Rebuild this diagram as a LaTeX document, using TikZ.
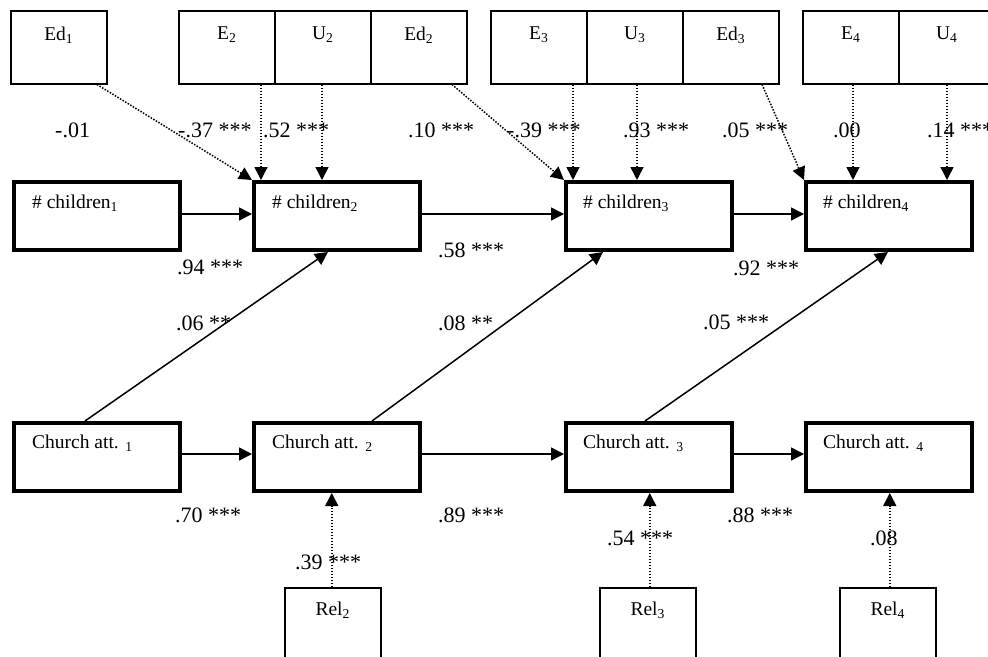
\documentclass[tikz,border=0pt]{standalone}
\usepackage{fontspec}
\setmainfont{Liberation Serif}
\usetikzlibrary{arrows.meta,calc}
\begin{document}
\begin{tikzpicture}[x=1pt,y=-1pt,
  thinbox/.style={draw,line width=1.5pt,inner sep=0pt,anchor=north west,minimum width=96pt,minimum height=73pt},
  thickbox/.style={draw,line width=4pt,inner sep=0pt,anchor=north west,minimum width=166pt,minimum height=68pt},
  boxlbl/.style={inner sep=0pt,font=\fontsize{19.5pt}{23pt}\selectfont},
  coef/.style={inner sep=0pt,anchor=west,font=\fontsize{22pt}{26pt}\selectfont},
  arr/.style={-{Triangle[length=13pt,width=13pt]},line width=1.5pt},
  dotarr/.style={arr,dash pattern=on 1.5pt off 1.5pt}
]
\useasboundingbox (0,0) rectangle (988,656);
\clip (0,0) rectangle (988,656);
\fill[white] (0,0) rectangle (988,656);

% top exogenous boxes
\node[thinbox] (ed1) at (10,10) {};
\node[thinbox] (e2) at (178,10) {};
\node[thinbox] (u2) at (274,10) {};
\node[thinbox] (ed2) at (370,10) {};
\node[thinbox] (e3) at (490,10) {};
\node[thinbox] (u3) at (586,10) {};
\node[thinbox] (ed3) at (682,10) {};
\node[thinbox] (e4) at (802,10) {};
\node[thinbox] (u4) at (898,10) {};
\node[boxlbl] (ted1) at ($(ed1.north)+(0,25)$) {Ed\textsubscript{1}};
\node[boxlbl] (te2) at ($(e2.north)+(0,25)$) {E\textsubscript{2}};
\node[boxlbl] (tu2) at ($(u2.north)+(0,25)$) {U\textsubscript{2}};
\node[boxlbl] (ted2) at ($(ed2.north)+(0,25)$) {Ed\textsubscript{2}};
\node[boxlbl] (te3) at ($(e3.north)+(0,25)$) {E\textsubscript{3}};
\node[boxlbl] (tu3) at ($(u3.north)+(0,25)$) {U\textsubscript{3}};
\node[boxlbl] (ted3) at ($(ed3.north)+(0,25)$) {Ed\textsubscript{3}};
\node[boxlbl] (te4) at ($(e4.north)+(0,25)$) {E\textsubscript{4}};
\node[boxlbl] (tu4) at ($(u4.north)+(0,25)$) {U\textsubscript{4}};

% children boxes
\node[thickbox] (ch1) at (12,180) {};
\node[thickbox] (ch2) at (252,180) {};
\node[thickbox] (ch3) at (564,180) {};
\node[thickbox] (ch4) at (804,180) {};
\node[boxlbl,anchor=west] (tch1) at ($(ch1.north west)+(20,23)$) {\# children\textsubscript{1}};
\node[boxlbl,anchor=west] (tch2) at ($(ch2.north west)+(20,23)$) {\# children\textsubscript{2}};
\node[boxlbl,anchor=west] (tch3) at ($(ch3.north west)+(19,23)$) {\# children\textsubscript{3}};
\node[boxlbl,anchor=west] (tch4) at ($(ch4.north west)+(19,23)$) {\# children\textsubscript{4}};

% church boxes
\node[thickbox] (ca1) at (12,421) {};
\node[thickbox] (ca2) at (252,421) {};
\node[thickbox] (ca3) at (564,421) {};
\node[thickbox] (ca4) at (804,421) {};
\node[boxlbl,anchor=west] (tca1) at ($(ca1.north west)+(20,22)$) {Church att. \textsubscript{1}};
\node[boxlbl,anchor=west] (tca2) at ($(ca2.north west)+(20,22)$) {Church att. \textsubscript{2}};
\node[boxlbl,anchor=west] (tca3) at ($(ca3.north west)+(19,22)$) {Church att. \textsubscript{3}};
\node[boxlbl,anchor=west] (tca4) at ($(ca4.north west)+(19,22)$) {Church att. \textsubscript{4}};

% religiosity boxes
\node[thinbox,minimum height=110pt] (rel2) at (284,587) {};
\node[thinbox,minimum height=110pt] (rel3) at (599,587) {};
\node[thinbox,minimum height=110pt] (rel4) at (839,587) {};
\node[boxlbl] (trel2) at ($(rel2.north)+(0,23)$) {Rel\textsubscript{2}};
\node[boxlbl] (trel3) at ($(rel3.north)+(0,23)$) {Rel\textsubscript{3}};
\node[boxlbl] (trel4) at ($(rel4.north)+(0,23)$) {Rel\textsubscript{4}};

% dotted arrows from top
\draw[dotarr] ($(ed1.south west)+(87,0)$) -- (ch2.north west);
\draw[dotarr] ($(e2.south west)+(83,0)$) -- ($(ch2.north west)+(9,0)$);
\draw[dotarr] ($(u2.south west)+(48,0)$) -- ($(ch2.north west)+(70,0)$);
\draw[dotarr] ($(ed2.south west)+(82,0)$) -- (ch3.north west);
\draw[dotarr] ($(e3.south west)+(83,0)$) -- ($(ch3.north west)+(9,0)$);
\draw[dotarr] ($(u3.south west)+(51,0)$) -- ($(ch3.north west)+(73,0)$);
\draw[dotarr] ($(ed3.south west)+(80,0)$) -- (ch4.north west);
\draw[dotarr] ($(e4.south west)+(51,0)$) -- ($(ch4.north west)+(49,0)$);
\draw[dotarr] ($(u4.south west)+(49,0)$) -- ($(ch4.north west)+(143,0)$);

% horizontal arrows
\draw[arr] ($(ch1.east)+(0,-2)$) -- ($(ch2.west)+(0,-2)$);
\draw[arr] ($(ch2.east)+(0,-2)$) -- ($(ch3.west)+(0,-2)$);
\draw[arr] ($(ch3.east)+(0,-2)$) -- ($(ch4.west)+(0,-2)$);
\draw[arr] ($(ca1.east)+(0,-3)$) -- ($(ca2.west)+(0,-3)$);
\draw[arr] ($(ca2.east)+(0,-3)$) -- ($(ca3.west)+(0,-3)$);
\draw[arr] ($(ca3.east)+(0,-3)$) -- ($(ca4.west)+(0,-3)$);

% diagonal arrows
\draw[arr] ($(ca1.north west)+(73,0)$) -- ($(ch2.south west)+(76,0)$);
\draw[arr] ($(ca2.north west)+(120,0)$) -- ($(ch3.south west)+(39,0)$);
\draw[arr] ($(ca3.north west)+(81,0)$) -- ($(ch4.south west)+(84,0)$);

% rel arrows
\coordinate (r2) at ($(rel2.north)+(-1,0)$);
\coordinate (r3) at ($(rel3.north)+(2,0)$);
\coordinate (r4) at ($(rel4.north)+(2,0)$);
\draw[dotarr] (r2) -- (r2 |- ca2.south);
\draw[dotarr] (r3) -- (r3 |- ca3.south);
\draw[dotarr] (r4) -- (r4 |- ca4.south);

% coefficients
\node[coef] (k1) at (55,130) {-.01};
\node[coef] (k2) at (178,130) {-.37 ***};
\node[coef] (k3) at (263,130) {.52 ***};
\node[coef] (k4) at (408,130) {.10 ***};
\node[coef] (k5) at (507,130) {-.39 ***};
\node[coef] (k6) at (623,130) {.93 ***};
\node[coef] (k7) at (722,130) {.05 ***};
\node[coef] (k8) at (833,130) {.00};
\node[coef] (k9) at (927,130) {.14 ***};
\node[coef] (k10) at (177,267) {.94 ***};
\node[coef] (k11) at (438,250) {.58 ***};
\node[coef] (k12) at (733,268) {.92 ***};
\node[coef] (k13) at (176,323) {.06 **};
\node[coef] (k14) at (438,323) {.08 **};
\node[coef] (k15) at (703,322) {.05 ***};
\node[coef] (k16) at (175,515) {.70 ***};
\node[coef] (k17) at (438,515) {.89 ***};
\node[coef] (k18) at (295,562) {.39 ***};
\node[coef] (k19) at (607,538) {.54 ***};
\node[coef] (k20) at (727,515) {.88 ***};
\node[coef] (k21) at (870,538) {.08};
\end{tikzpicture}
\end{document}
